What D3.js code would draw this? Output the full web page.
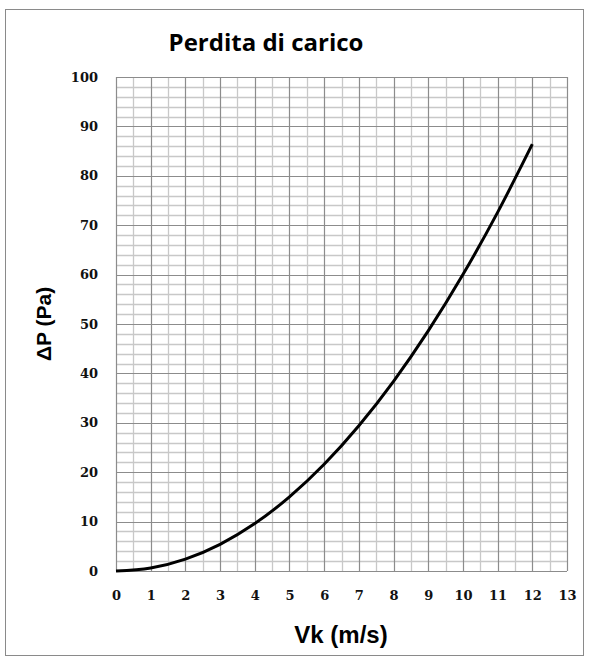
<!DOCTYPE html>
<html><head><meta charset="utf-8">
<script src="https://cdn.jsdelivr.net/npm/d3@7"></script>
<style>body{margin:0;background:#fff}svg{display:block}</style>
</head><body>
<script>
const title = "Perdita di carico";
const xLabel = "Vk (m/s)";
const yLabel = "ΔP (Pa)";
const xTicks = [0,1,2,3,4,5,6,7,8,9,10,11,12,13];
const yTicks = [0,10,20,30,40,50,60,70,80,90,100];
const velocity = [0,1,2,3,4,5,6,7,8,9,10,11,12];
const pressureDrop = [0,0.6,2.4,5.4,9.6,15,21.6,29.4,38.4,48.6,60,72.6,86.4];

const W = 589, H = 660;
const svg = d3.select("body").append("svg").attr("width", W).attr("height", H);
svg.append("rect").attr("x",5.5).attr("y",9.5).attr("width",578).attr("height",646)
  .attr("fill","#fff").attr("stroke","#8a8a8a");

const x = d3.scaleLinear().domain([0,13]).range([116,567]);
const y = d3.scaleLinear().domain([0,100]).range([571,77]);

const g = svg.append("g");
// minor grid
g.selectAll(".mx").data(d3.range(0.5,13,1)).enter().append("line")
  .attr("x1",d=>Math.round(x(d))+0.5).attr("x2",d=>Math.round(x(d))+0.5)
  .attr("y1",y(0)).attr("y2",y(100)).attr("stroke","#c8c8c8").attr("stroke-width",1.3);
g.selectAll(".my").data(d3.range(2,100,2).filter(v=>v%10!==0)).enter().append("line")
  .attr("y1",d=>Math.round(y(d))+0.5).attr("y2",d=>Math.round(y(d))+0.5)
  .attr("x1",x(0)).attr("x2",x(13)).attr("stroke","#c8c8c8").attr("stroke-width",1.3);
// major grid
g.selectAll(".Mx").data(xTicks).enter().append("line")
  .attr("x1",d=>Math.round(x(d))+0.5).attr("x2",d=>Math.round(x(d))+0.5)
  .attr("y1",y(0)).attr("y2",y(100)).attr("stroke","#8c8c8c").attr("stroke-width",1.2);
g.selectAll(".My").data(yTicks).enter().append("line")
  .attr("y1",d=>Math.round(y(d))+0.5).attr("y2",d=>Math.round(y(d))+0.5)
  .attr("x1",x(0)).attr("x2",x(13)).attr("stroke","#8c8c8c").attr("stroke-width",1.2);

// axes (labels only)
const yAxis = svg.append("g").attr("transform",`translate(${x(0)-18},0)`)
  .call(d3.axisLeft(y).tickValues(yTicks).tickSize(0).tickPadding(0));
yAxis.select(".domain").remove();
const xAxis = svg.append("g").attr("transform",`translate(0,${y(0)+20})`)
  .call(d3.axisBottom(x).tickValues(xTicks).tickSize(0).tickPadding(0));
xAxis.select(".domain").remove();
svg.selectAll(".tick text").attr("font-family","'DejaVu Serif', serif")
  .attr("font-weight","bold").attr("font-size",13).attr("fill","#111");
xAxis.selectAll(".tick text").attr("dy","0.71em");

// curve
const line = d3.line().x((d,i)=>x(velocity[i])).y(d=>y(d)).curve(d3.curveMonotoneX);
svg.append("path").datum(pressureDrop).attr("d",line)
  .attr("fill","none").attr("stroke","#000").attr("stroke-width",3).attr("stroke-linecap","butt");

// titles
svg.append("text").attr("x",266).attr("y",51).attr("text-anchor","middle")
  .attr("font-family","'Open Sans', sans-serif").attr("font-weight","bold").attr("font-size",24)
  .attr("fill","#000").text(title);
svg.append("text").attr("x",341).attr("y",643).attr("text-anchor","middle")
  .attr("font-family","'Liberation Sans', Arial, sans-serif").attr("font-weight","bold").attr("font-size",24)
  .attr("fill","#000").text(xLabel);
svg.append("text").attr("transform","translate(51,324) rotate(-90)").attr("text-anchor","middle")
  .attr("font-family","'Liberation Sans', Arial, sans-serif").attr("font-weight","bold").attr("font-size",21)
  .attr("fill","#000").text(yLabel);
</script>
</body></html>
